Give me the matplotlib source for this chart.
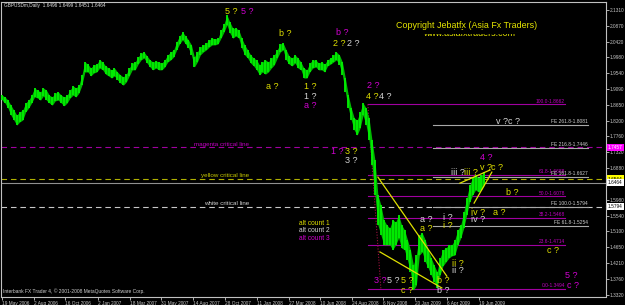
import matplotlib
matplotlib.use("Agg")
import matplotlib.pyplot as plt
from matplotlib.patches import Rectangle
import pandas as pd

plt.rcParams['font.family'] = ['Liberation Sans', 'DejaVu Sans']

# weekly bars (week 0 = week of 19 May 2006)
start = pd.Timestamp('2006-05-19')
week_high = [
    1.892, 1.887, 1.878, 1.864, 1.850, 1.836, 1.845, 1.850, 1.870, 1.878,
    1.892, 1.912, 1.906, 1.901, 1.912, 1.906, 1.892, 1.887, 1.898, 1.901,
    1.892, 1.887, 1.892, 1.906, 1.918, 1.912, 1.920, 1.949, 1.985, 1.979,
    1.968, 1.977, 1.979, 1.991, 1.985, 1.974, 1.968, 1.963, 1.968, 1.957,
    1.949, 1.943, 1.951, 1.968, 1.982, 1.985, 1.999, 2.010, 2.013, 2.002,
    1.991, 1.985, 1.988, 1.985, 1.982, 1.991, 2.005, 2.013, 2.019, 2.041,
    2.058, 2.069, 2.058, 2.047, 2.033, 1.999, 2.013, 2.027, 2.033, 2.038,
    2.047, 2.052, 2.050, 2.052, 2.075, 2.092, 2.117, 2.097, 2.080, 2.080,
    2.075, 2.052, 2.033, 2.019, 2.005, 1.996, 1.991, 1.977, 1.985, 1.991,
    1.985, 1.996, 2.005, 2.019, 2.036, 2.038, 2.019, 2.002, 1.996, 2.005,
    1.996, 1.985, 1.968, 1.963, 1.982, 1.991, 1.991, 1.982, 1.985, 1.979,
    1.991, 1.996, 2.005, 2.013, 2.005, 1.985, 1.940, 1.892, 1.856, 1.828,
    1.822, 1.845, 1.870, 1.856, 1.828, 1.766, 1.710, 1.612, 1.584, 1.542,
    1.528, 1.519, 1.542, 1.536, 1.556, 1.528, 1.514, 1.486, 1.458, 1.415,
    1.443, 1.500, 1.505, 1.486, 1.458, 1.435, 1.415, 1.396, 1.435, 1.458,
    1.463, 1.472, 1.472, 1.486, 1.514, 1.528, 1.564, 1.603, 1.640, 1.660,
    1.668, 1.660, 1.668, 1.676]
week_low = [
    1.878, 1.870, 1.856, 1.836, 1.822, 1.808, 1.817, 1.822, 1.845, 1.856,
    1.870, 1.887, 1.884, 1.878, 1.890, 1.878, 1.870, 1.864, 1.876, 1.878,
    1.870, 1.862, 1.870, 1.884, 1.892, 1.887, 1.898, 1.920, 1.957, 1.957,
    1.946, 1.954, 1.957, 1.968, 1.963, 1.951, 1.946, 1.940, 1.946, 1.935,
    1.926, 1.920, 1.929, 1.946, 1.963, 1.963, 1.979, 1.991, 1.996, 1.982,
    1.971, 1.963, 1.968, 1.963, 1.963, 1.971, 1.985, 1.991, 1.999, 2.019,
    2.036, 2.047, 2.036, 2.024, 2.005, 1.971, 1.985, 2.005, 2.013, 2.019,
    2.027, 2.033, 2.033, 2.036, 2.052, 2.069, 2.089, 2.066, 2.052, 2.058,
    2.052, 2.024, 2.005, 1.996, 1.982, 1.974, 1.963, 1.949, 1.957, 1.951,
    1.957, 1.968, 1.977, 1.996, 2.013, 2.019, 1.991, 1.979, 1.974, 1.982,
    1.968, 1.963, 1.940, 1.940, 1.957, 1.968, 1.971, 1.963, 1.963, 1.957,
    1.974, 1.979, 1.985, 1.991, 1.977, 1.949, 1.901, 1.856, 1.822, 1.794,
    1.780, 1.800, 1.836, 1.808, 1.766, 1.696, 1.612, 1.528, 1.500, 1.472,
    1.472, 1.472, 1.458, 1.472, 1.491, 1.463, 1.458, 1.429, 1.396, 1.345,
    1.359, 1.443, 1.452, 1.424, 1.407, 1.387, 1.368, 1.351, 1.387, 1.413,
    1.424, 1.435, 1.441, 1.443, 1.472, 1.491, 1.519, 1.556, 1.592, 1.612,
    1.626, 1.620, 1.626, 1.640]
last_close = 1.6464

date_labels = ['19 May 2006', '2 Aug 2006', '16 Oct 2006', '2 Jan 2007', '18 Mar 2007',
               '31 May 2007', '14 Aug 2007', '28 Oct 2007', '11 Jan 2008', '27 Mar 2008',
               '10 Jun 2008', '24 Aug 2008', '6 Nov 2008', '20 Jan 2009', '6 Apr 2009',
               '19 Jun 2009']
# 1.6440 sits under the current-price tag, so it is not listed
price_ticks = [2.1310, 2.0870, 2.0420, 1.9980, 1.9540, 1.9090, 1.8650, 1.8200, 1.7760,
               1.7320, 1.6880, 1.5980, 1.5540, 1.5100, 1.4650, 1.4210, 1.3760, 1.3320]

crit_names = ['magenta critical line', 'yellow critical line', 'white critical line']
crit_prices = [1.7457, 1.6564, 1.5794]
crit_colors = ['#a000a0', '#b0b000', '#c8c8c8']
crit_text_colors = ['#c000c0', '#c8c800', '#d0d0d0']
crit_box = ['#ff00ff', '#ffff00', '#ffffff']

fib_levels = ['100.0', '61.8', '50.0', '38.2', '23.6', '0.0']
fib_prices = [1.8662, 1.6688, 1.6078, 1.5468, 1.4714, 1.3494]
fib_span = [123.6, 190.2]
fe_levels = ['261.8', '216.8', '161.8', '100.0', '61.8']
fe_prices = [1.8081, 1.7446, 1.6627, 1.5794, 1.5254]
fe_span = [145.6, 198.0]

# trend lines: (week0, price0, week1, price1)
trend_lines = [(127.0, 1.662, 150.3, 1.384),
               (127.7, 1.452, 148.6, 1.351),
               (154.7, 1.645, 164.9, 1.682),
               (159.5, 1.589, 165.5, 1.676)]
fib_anchor = (123.6, 1.8662, 128.0, 1.3494)

Y, W, M = '#dede00', '#d4d4d4', '#d000d0'
wave_text = ['5 ?', '5 ?', 'b ?', 'b ?', '2 ?', '2 ?', 'a ?', '1 ?', '1 ?', 'a ?',
             '2 ?', '4 ?', '4 ?', '1 ?', '3 ?', '3 ?', '3 ?', '5 ?', '5 ?', 'c ?',
             'a ?', 'a ?', 'i ?', 'i ?', 'ii ?', 'ii ?', 'b ?', 'b ?', 'iv ?', 'iv ?',
             'a ?', 'iii ?', 'iii ?', '4 ?', 'v ?', 'c ?', 'b ?', 'v ?c ?', 'c ?', '5 ?', 'c ?']
wave_week = [77.4, 82.8, 95.6, 114.9, 113.9, 118.6, 91.2, 104.1, 104.1, 104.1,
             125.3, 125.0, 129.4, 113.2, 117.9, 117.9, 127.7, 132.1, 136.8, 136.8,
             143.2, 143.2, 150.7, 150.7, 154.1, 154.1, 149.0, 149.0, 160.8, 160.8,
             167.9, 154.1, 158.4, 163.5, 163.5, 167.2, 172.3, 170.9, 186.1, 192.2, 192.9]
wave_price = [2.128, 2.128, 2.064, 2.069, 2.038, 2.038, 1.915, 1.915, 1.887, 1.864,
              1.918, 1.887, 1.887, 1.735, 1.735, 1.710, 1.373, 1.373, 1.373, 1.345,
              1.544, 1.519, 1.550, 1.525, 1.421, 1.399, 1.371, 1.345, 1.564, 1.542,
              1.564, 1.676, 1.676, 1.718, 1.690, 1.690, 1.620, 1.819, 1.455, 1.387, 1.359]
wave_color = [Y, M, Y, M, Y, W, Y, Y, W, M,
              M, Y, W, M, Y, W, M, W, Y, Y,
              W, Y, W, Y, Y, W, Y, W, Y, W,
              Y, W, Y, M, Y, Y, Y, W, Y, M, M]

alt_text = ['alt count 1', 'alt count 2', 'alt count 3']
alt_price = [1.533, 1.511, 1.491]
alt_color = [Y, W, M]

fig = plt.figure(figsize=(6.25, 3.05), dpi=100, facecolor='black')
ax = fig.add_axes([1.5 / 625, 8.5 / 305, 604 / 625, 295 / 305], facecolor='black')

weeks = list(range(len(week_high)))
ax.fill_between(weeks, week_low, week_high, color='#00b800', lw=0, zorder=3)
ax.vlines(weeks, week_low, week_high, color='#00f000', linewidth=1.3, zorder=3)

# critical lines
for name, p, c, tc in zip(crit_names, crit_prices, crit_colors, crit_text_colors):
    ax.axhline(p, color=c, lw=0.8, ls=(0, (5, 3.5)), zorder=2)
    ax.text(83.4, p + 0.002, name, color=tc, fontsize=4.5, ha='right', va='bottom')
ax.axhline(last_close, color='#909090', lw=0.8, zorder=2)

# fibonacci retracement
for lvl, p in zip(fib_levels, fib_prices):
    ax.plot(fib_span, [p, p], color='#a000a0', lw=0.8, zorder=2)
    ax.text(fib_span[1], p + 0.002, f'{lvl}-{p:.4f}', color='#c000c0', fontsize=3.5,
            ha='right', va='bottom')
ax.plot(fib_anchor[0::2], fib_anchor[1::2], color='#a01040', lw=0.8, ls=(0, (1, 1.5)), zorder=2)

# fibonacci expansion
for lvl, p in zip(fe_levels, fe_prices):
    ax.plot(fe_span, [p, p], color='#a8a8a8', lw=0.8, zorder=2)
    ax.text(fe_span[1], p + 0.002, f'FE {lvl}-{p:.4f}', color='#d0d0d0', fontsize=3.5,
            ha='right', va='bottom')

for w0, p0, w1, p1 in trend_lines:
    ax.plot([w0, w1], [p0, p1], color='#e0e000', lw=0.9, zorder=4)

for t, w, p, c in zip(wave_text, wave_week, wave_price, wave_color):
    ax.text(w, p, t, color=c, fontsize=6.5, ha='center', va='center', zorder=5)
for t, p, c in zip(alt_text, alt_price, alt_color):
    ax.text(100.3, p, t, color=c, fontsize=4.8, ha='left', va='center', zorder=5)

ax.set_xlim(-0.17, 203.9)
ax.set_ylim(1.3270, 2.1548)

tick_pos = [(pd.Timestamp(d) - start).days / 7 for d in date_labels]
ax.set_xticks(tick_pos)
ax.set_xticklabels(date_labels, ha='left')
ax.yaxis.tick_right()
ax.set_yticks(price_ticks)
ax.set_yticklabels([f'{v:.4f}' for v in price_ticks])
ax.tick_params(axis='both', colors='#c8c8c8', labelsize=3.4, length=2, width=0.6, pad=1)
for s in ax.spines.values():
    s.set_color('#c0c0c0')
    s.set_linewidth(0.8)

# price tags on the right axis
tag_prices = crit_prices + [last_close]
tag_colors = crit_box + ['#ffffff']
tag_text = ['#ffffff', '#000000', '#000000', '#000000']
for p, bc, tc in zip(tag_prices, tag_colors, tag_text):
    ax.text(1.004, p, f'{p:.4f}', transform=ax.get_yaxis_transform(), fontsize=3.4,
            color=tc, ha='left', va='center', clip_on=False, zorder=6,
            bbox=dict(boxstyle='square,pad=0.25', fc=bc, ec='none'))

fig.text(4 / 625, 1 - 5 / 305, 'GBPUSDm,Daily  1.6496 1.6499 1.6451 1.6464', color='#e0e0e0',
         fontsize=3.4, ha='left', va='center')
fig.text(3 / 625, 1 - 291 / 305, 'Interbank FX Trader 4, \u00a9 2001-2008 MetaQuotes Software Corp.',
         color='#d0d0d0', fontsize=3.5, ha='left', va='center')
fig.text(467 / 625, 1 - 26 / 305, 'Copyright Jebatfx (Asia Fx Traders)', color='#e6e600',
         fontsize=6.4, ha='center', va='center')
fig.text(469 / 625, 1 - 34 / 305, 'www.asiafxtraders.com', color='#e6e600',
         fontsize=6.4, ha='center', va='center')
# the web address is mostly hidden behind the copyright line in the original
fig.add_artist(Rectangle((415 / 625, 1 - 33.5 / 305), 110 / 625, 3.5 / 305,
                         transform=fig.transFigure, facecolor='black', edgecolor='none', zorder=10))

fig.savefig('out.png', dpi=100, facecolor='black')
